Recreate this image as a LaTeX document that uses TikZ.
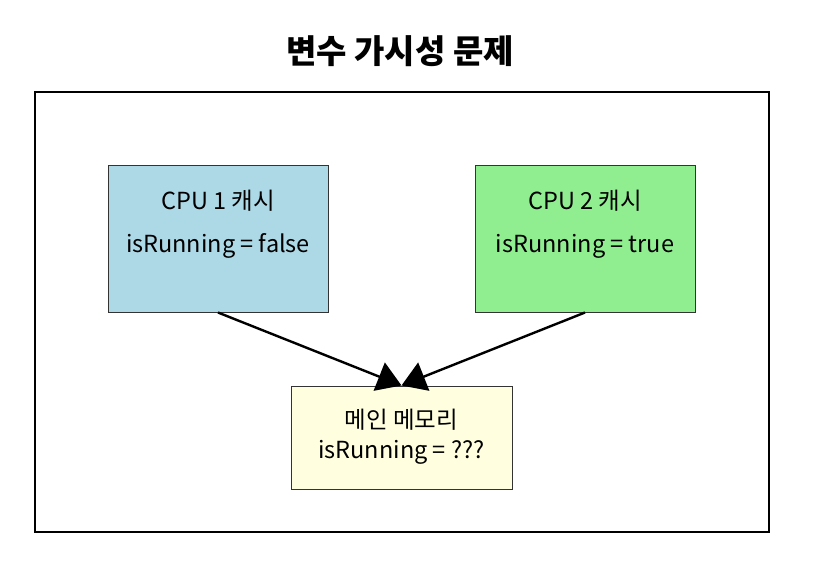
\documentclass[tikz,border=0pt]{standalone}
\usepackage{fontspec}
\setmainfont{Noto Sans CJK KR}
\usetikzlibrary{arrows.meta}
\definecolor{cpuone}{RGB}{173,216,230}
\definecolor{cputwo}{RGB}{144,238,144}
\definecolor{mainmem}{RGB}{255,255,224}
\tikzset{
  cachebox/.style={draw=black!80, line width=1pt, minimum width=220pt, minimum height=147pt, inner sep=0pt},
  membox/.style={draw=black!80, line width=1pt, minimum width=221pt, minimum height=103pt, inner sep=0pt},
  label/.style={font=\fontsize{23.5}{26}\selectfont, inner sep=0pt},
  flow/.style={line width=2.4pt, -{Triangle[length=24pt, width=30pt]}}
}
\begin{document}
\begin{tikzpicture}[x=1pt, y=-1pt]
		\useasboundingbox (0,0) rectangle (817,571);
		%title
		\node[font=\fontsize{33}{36}\selectfont\bfseries] (title) at (400,51) {변수 가시성 문제};
		%frame
		\draw[line width=2.5pt] (35,92) rectangle (769,532);
		%caches
		\node[cachebox, fill=cpuone] (cpu1) at (218,238.5) {};
		\node[label] (cpu1name) at (218,201) {CPU 1 캐시};
		\node[label] (cpu1val) at (218,246) {isRunning = false};
		\node[cachebox, fill=cputwo] (cpu2) at (585,238.5) {};
		\node[label] (cpu2name) at (585,201) {CPU 2 캐시};
		\node[label] (cpu2val) at (585,246) {isRunning = true};
		%main memory
		\node[membox, fill=mainmem] (mem) at (401.5,437.5) {};
		\node[label] (memname) at (401.5,420) {메인 메모리};
		\node[label] (memval) at (401.5,452) {isRunning = ???};
		%arrows
		\draw[flow] (cpu1.south) -- (mem.north);
		\draw[flow] (cpu2.south) -- (mem.north);
	\end{tikzpicture}
\end{document}
